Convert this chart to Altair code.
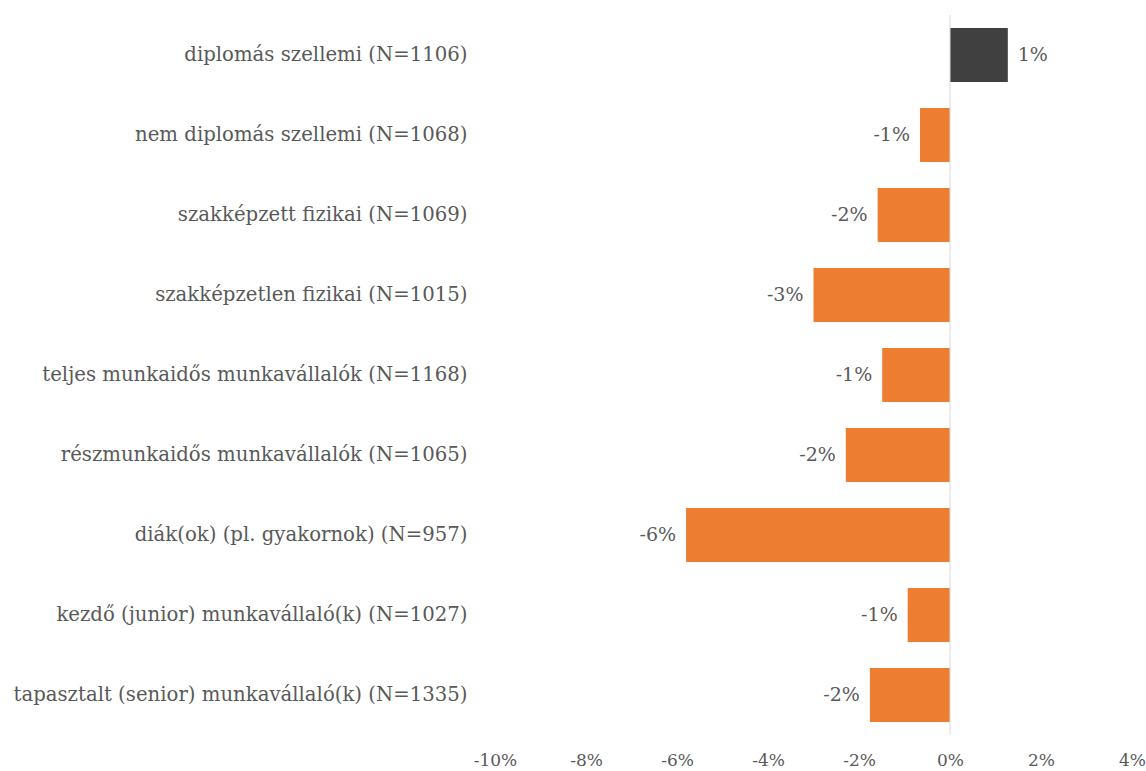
import altair as alt
import pandas as pd

categories = [
    "diplomás szellemi (N=1106)",
    "nem diplomás szellemi (N=1068)",
    "szakképzett fizikai (N=1069)",
    "szakképzetlen fizikai (N=1015)",
    "teljes munkaidős munkavállalók (N=1168)",
    "részmunkaidős munkavállalók (N=1065)",
    "diák(ok) (pl. gyakornok) (N=957)",
    "kezdő (junior) munkavállaló(k) (N=1027)",
    "tapasztalt (senior) munkavállaló(k) (N=1335)",
]
values = [1.27, -0.66, -1.59, -3.0, -1.49, -2.29, -5.80, -0.93, -1.76]
labels = ["1%", "-1%", "-2%", "-3%", "-1%", "-2%", "-6%", "-1%", "-2%"]
x_ticks = [-10, -8, -6, -4, -2, 0, 2, 4]

df = pd.DataFrame({"cat": categories, "val": [v / 100 for v in values], "lab": labels})

FONT = "DejaVu Serif"
W, H = 637, 720

y_enc = alt.Y("cat:N", sort=categories, title=None,
              scale=alt.Scale(paddingInner=0.325, paddingOuter=0.1625),
              axis=alt.Axis(domain=False, ticks=False, labelFont=FONT, labelFontSize=19.7,
                            labelColor="#595959", labelPadding=28, labelLimit=600))
x_scale = alt.Scale(domain=[-0.10, 0.04], nice=False, zero=False)

base = alt.Chart(df)

bars = base.mark_bar().encode(
    y=y_enc,
    x=alt.X("val:Q", scale=x_scale, title=None,
            axis=alt.Axis(values=[t / 100 for t in x_ticks],
                          labelExpr="round(datum.value * 100) + '%'",
                          labelFlush=False, labelOverlap=False,
                          domain=False, ticks=False, grid=False, labelFont=FONT,
                          labelFontSize=17, labelColor="#595959", labelPadding=17)),
    x2=alt.datum(0),
    color=alt.condition("datum.val >= 0", alt.value("#404040"), alt.value("#ED7D31")),
)

zero = alt.Chart(pd.DataFrame({"z": [0]})).mark_rule(color="#d9d9d9", strokeWidth=1).encode(
    x=alt.X("z:Q", scale=x_scale)
)

txt_pos = base.transform_filter("datum.val >= 0").mark_text(
    align="left", dx=10, font=FONT, fontSize=19, color="#595959", baseline="middle"
).encode(y=alt.Y("cat:N", sort=categories), x=alt.X("val:Q", scale=x_scale), text="lab:N")

txt_neg = base.transform_filter("datum.val < 0").mark_text(
    align="right", dx=-10, font=FONT, fontSize=19, color="#595959", baseline="middle"
).encode(y=alt.Y("cat:N", sort=categories), x=alt.X("val:Q", scale=x_scale), text="lab:N")

chart = alt.layer(bars, zero, txt_pos, txt_neg).properties(
    width=W, height=H,
    background="white",
    autosize=alt.AutoSizeParams(type="none"),
    padding={"left": 495, "top": 15, "right": 14, "bottom": 36},
).configure_view(strokeWidth=0, stroke=None)

chart.save("out.html", embed_options={"renderer": "svg", "actions": False})
